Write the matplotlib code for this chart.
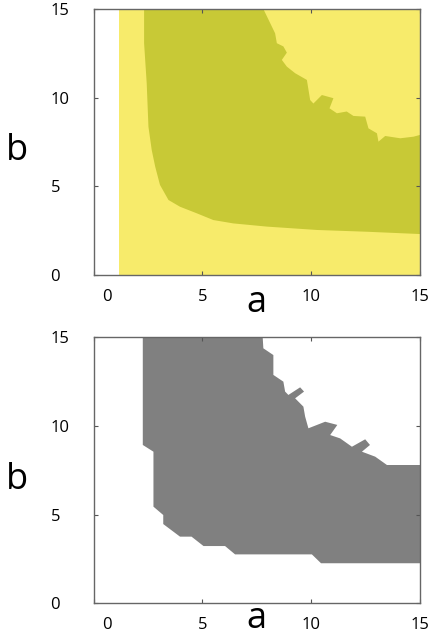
import numpy as np
import matplotlib
matplotlib.use('Agg')
import matplotlib.pyplot as plt
import matplotlib.transforms as mtransforms

plt.rcParams['font.family'] = ['Open Sans', 'DejaVu Sans']

# axis ticks
ticks = [0, 5, 10, 15]

# top panel: light region starts after a white strip
light_start_a = 1.18

# lower / left edge of the dark region (top-left going down then right)
dark_lower_a = [2.32, 2.32, 2.44, 2.52, 2.67, 2.83, 3.05, 3.44, 3.97, 4.74, 5.5, 6.42, 7.96, 10.26, 12.56, 15.0]
dark_lower_b = [15.0, 13.07, 10.81, 8.36, 7.05, 6.11, 5.08, 4.23, 3.85, 3.48, 3.1, 2.91, 2.73, 2.54, 2.44, 2.31]

# upper / right edge of the dark region (from top going down to the right)
dark_upper_a = [7.8, 8.34, 8.42, 8.72, 8.88, 8.65, 8.88, 9.26, 9.8, 9.95, 10.1, 10.49, 11.02, 10.84,
                11.18, 11.63, 11.94, 12.48, 12.63, 13.02, 13.09, 13.4, 14.09, 14.7, 15.0]
dark_upper_b = [15.0, 13.63, 13.07, 12.89, 12.54, 12.13, 11.75, 11.38, 11.0, 9.87, 9.67, 10.15, 9.97, 9.4,
                9.12, 9.22, 8.97, 8.93, 8.27, 7.99, 7.52, 7.84, 7.71, 7.8, 7.9]

# bottom panel: grey region, stepped edges
grey_lower_a = [2.26, 2.26, 2.75, 2.75, 3.2, 3.2, 3.97, 4.5, 5.05, 6.04, 6.5, 10.03, 10.45, 15.0]
grey_lower_b = [15.0, 8.93, 8.55, 5.45, 4.98, 4.47, 3.76, 3.76, 3.23, 3.23, 2.76, 2.76, 2.26, 2.26]

grey_upper_a = [7.77, 7.8, 8.26, 8.26, 8.72, 8.8, 8.95, 9.49, 9.67, 9.26, 9.64, 9.72, 9.87, 10.64, 11.2,
                10.87, 11.33, 11.87, 12.48, 12.7, 12.33, 12.94, 13.48, 15.0]
grey_upper_b = [15.0, 14.38, 14.0, 12.88, 12.5, 11.94, 11.75, 12.18, 11.94, 11.56, 11.09, 10.53, 9.87, 10.24,
                10.06, 9.49, 9.3, 8.83, 9.25, 8.93, 8.55, 8.27, 7.8, 7.8]

light_yellow = '#f7eb6b'
dark_yellow = '#c8c936'
grey = '#808080'


def style_axes(ax, xlabelpad):
    ax.set_xlim(0, 15)
    ax.set_ylim(0, 15)
    ax.set_xticks(ticks)
    ax.set_yticks(ticks)
    ax.tick_params(direction='in', length=3, width=0.8, color='#555555',
                   top=True, right=True, labelsize=12)
    ax.tick_params(axis='x', pad=10)
    ax.tick_params(axis='y', pad=31)
    for lab in ax.get_yticklabels():
        lab.set_horizontalalignment('left')
    # the "0" label sits a bit to the right of its tick in the original
    zero = ax.get_xticklabels()[0]
    zero.set_transform(zero.get_transform() +
                       mtransforms.ScaledTranslation(0.13, 0, fig.dpi_scale_trans))
    for sp in ax.spines.values():
        sp.set_color('#666666')
        sp.set_linewidth(1.0)
    ax.set_xlabel('a', fontsize=26, labelpad=xlabelpad)
    ax.set_ylabel('b', fontsize=26, rotation=0, va='center')
    ax.yaxis.set_label_coords(-0.235, 0.465)


fig = plt.figure(figsize=(4.32, 6.43), dpi=100)

ax1 = fig.add_axes([0.2167, 0.5723, 0.7556, 0.4137])
ax1.axvspan(light_start_a, 15, color=light_yellow, lw=0)
poly_a = dark_lower_a + dark_upper_a[::-1]
poly_b = dark_lower_b + dark_upper_b[::-1]
ax1.fill(poly_a, poly_b, color=dark_yellow, lw=0)
style_axes(ax1, -14)

ax2 = fig.add_axes([0.2167, 0.0617, 0.7556, 0.4137])
poly_a = grey_lower_a + grey_upper_a[::-1]
poly_b = grey_lower_b + grey_upper_b[::-1]
ax2.fill(poly_a, poly_b, color=grey, lw=0)
style_axes(ax2, -23)

fig.savefig('out.png', dpi=100)
